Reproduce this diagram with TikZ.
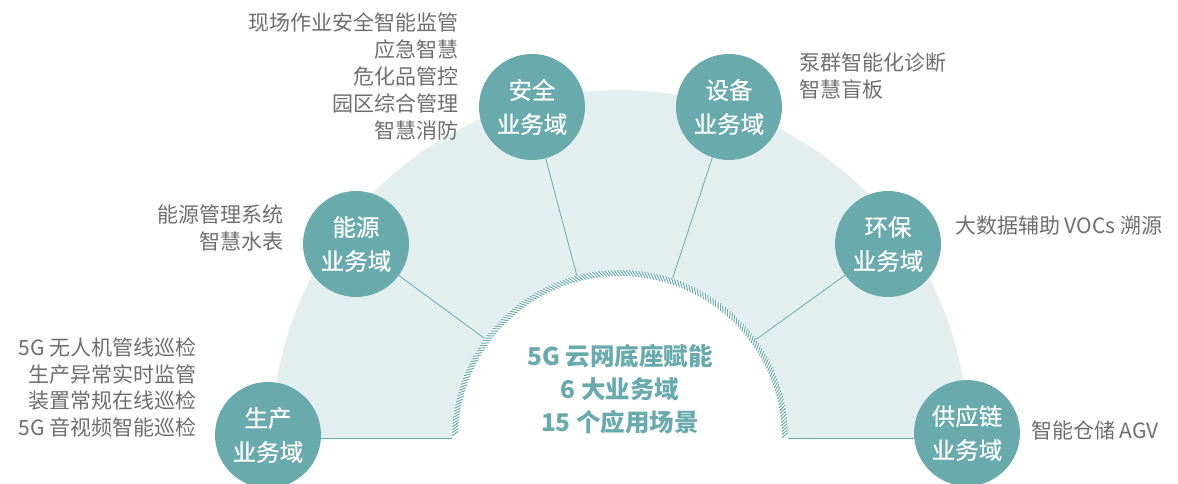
\documentclass[tikz,border=0pt]{standalone}
\usepackage{fontspec}
\setmainfont{Noto Sans CJK SC}
\newfontfamily\cjkmed{Noto Sans CJK SC}[UprightFeatures={FakeBold=0.5}]
\usetikzlibrary{calc}
\definecolor{teal1}{HTML}{69AAAD}
\definecolor{bgfill}{HTML}{E3EFEF}
\definecolor{graytxt}{HTML}{6E6E6E}
\tikzset{
  dombox/.style={circle, fill=teal1, minimum size=106pt, inner sep=0pt, text=white, align=center,
    font=\cjkmed\fontsize{23.5}{34}\selectfont},
  sidetxt/.style={inner sep=0pt, text=graytxt, font=\fontsize{21}{27}\selectfont},
  conn/.style={draw=teal1, line width=0.8pt},
  hatchline/.style={draw=teal1, line width=1pt},
}
\begin{document}
\begin{tikzpicture}[x=1pt,y=1pt]
\useasboundingbox (0,0) rectangle (1178,484);
% big light semicircle
\fill[bgfill] (272,46) arc[start angle=180,end angle=0,radius=348] -- cycle;
% inner white semicircle
\fill[white] (452,46) arc[start angle=180,end angle=0,radius=168] -- cycle;
% hub (invisible full circle for connector ends)
\node[circle, minimum size=336pt, inner sep=0pt] (hub) at (620,46) {};
% hatched ring
\foreach \a in {0.2,1.25,...,177.9} {
  \draw[hatchline] ([shift={(\a:162)}]hub.center) -- ([shift={(\a+1.6:168)}]hub.center);
}
% domain circles
\node[dombox] (sc) at (268,49) {生产\\业务域};
\node[dombox] (ny) at (356,240) {能源\\业务域};
\node[dombox] (aq) at (532,377) {安全\\业务域};
\node[dombox] (sb) at (729,377) {设备\\业务域};
\node[dombox] (hb) at (888,240) {环保\\业务域};
\node[dombox] (gy) at (967,51) {供应链\\业务域};
% base lines
\coordinate (bl) at (452,46);
\coordinate (br) at (788,46);
\draw[conn] (sc.east |- bl) -- (bl);
\draw[conn] (br) -- (gy.west |- br);
% radial connectors
\draw[conn] (ny) -- (hub);
\draw[conn] (aq) -- (hub);
\draw[conn] (sb) -- (hub);
\draw[conn] (hb) -- (hub);
% center text
\node[text=teal1, font=\bfseries\fontsize{24.5}{33}\selectfont, align=center] (ct) at (620,95) {5G 云网底座赋能\\6 大业务域\\15 个应用场景};
% side texts
\node[sidetxt, align=right, anchor=east, font=\fontsize{21}{26.5}\selectfont] (t1) at (197,96.5) {5G 无人机管线巡检\\生产异常实时监管\\装置常规在线巡检\\5G 音视频智能巡检};
\node[sidetxt, align=right, anchor=east] (t2) at (284,256.5) {能源管理系统\\智慧水表};
\node[sidetxt, align=right, anchor=east] (t3) at (459,407.5) {现场作业安全智能监管\\应急智慧\\危化品管控\\园区综合管理\\智慧消防};
\node[sidetxt, align=left, anchor=west] (t4) at (799,408) {泵群智能化诊断\\智慧盲板};
\node[sidetxt, align=left, anchor=west] (t5) at (955,258) {大数据辅助 VOCs 溯源};
\node[sidetxt, align=left, anchor=west] (t6) at (1031,54) {智能仓储 AGV};
\end{tikzpicture}
\end{document}
